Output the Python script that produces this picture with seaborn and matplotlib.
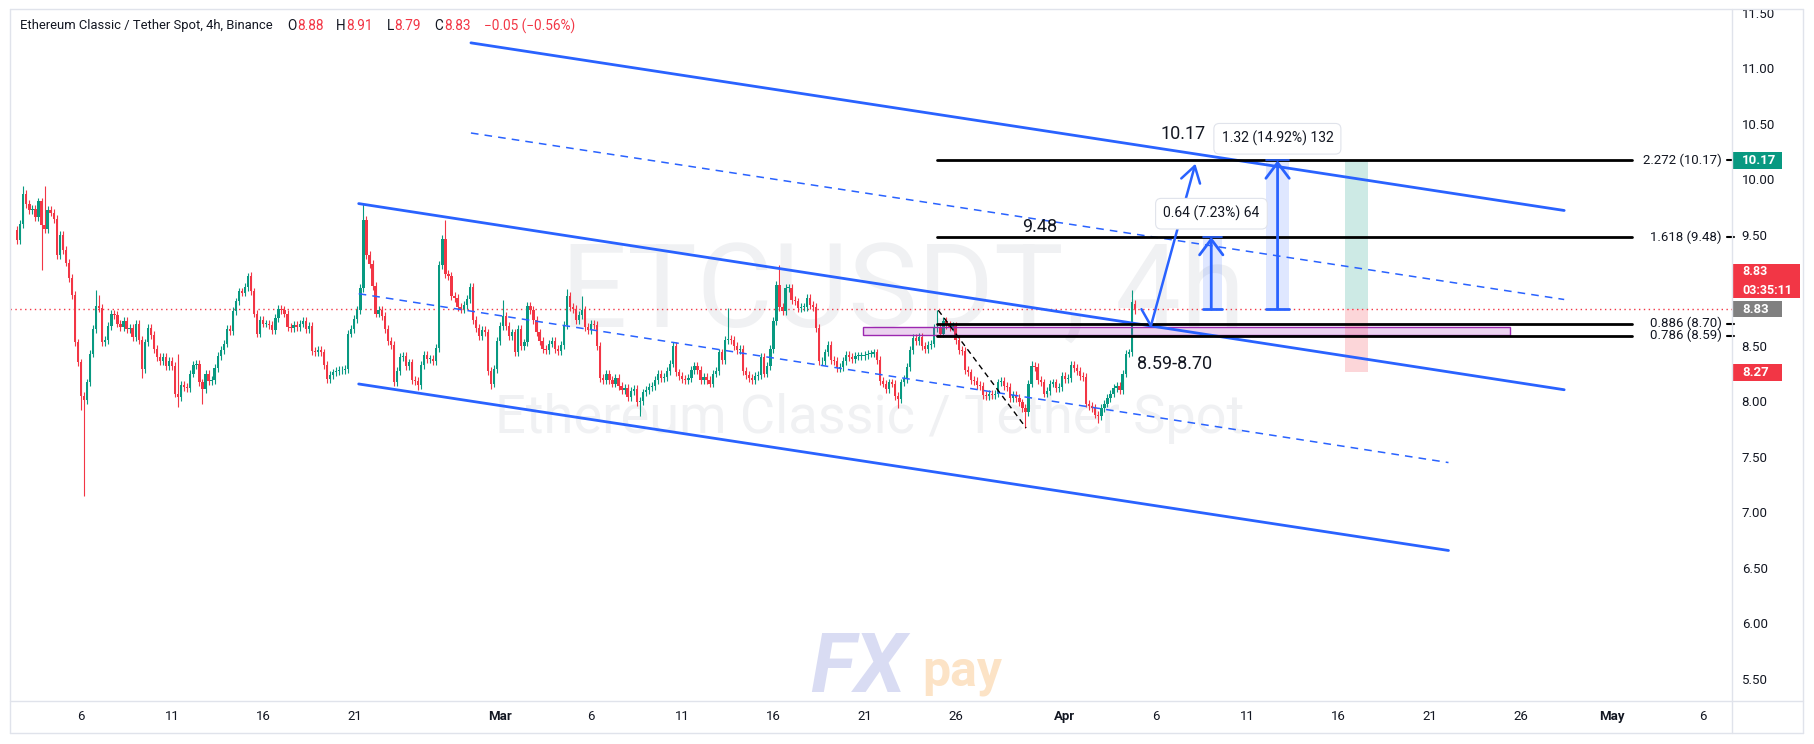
import numpy as np
import pandas as pd
import seaborn as sns
import matplotlib.pyplot as plt
import matplotlib.transforms as mtransforms
from matplotlib.patches import Rectangle
from matplotlib.lines import Line2D

# ---- data (4h candles, x = days since Feb 1) ----
first_day = 1.5
first_open = 9.54
closes_a = [9.45, 9.60, 9.87, 9.78, 9.72, 9.73, 9.66, 9.80, 9.59, 9.55,
            9.72, 9.70, 9.64, 9.32, 9.50, 9.36, 9.25, 9.11, 8.96, 8.53,
            8.35, 8.05, 8.01, 8.17, 8.43, 8.65, 8.86, 8.84, 8.53, 8.55,
            8.68, 8.79, 8.78, 8.70, 8.67, 8.72, 8.65, 8.66, 8.58, 8.70,
            8.55, 8.29, 8.53, 8.66, 8.60, 8.47, 8.40, 8.36, 8.40, 8.32,
            8.36, 8.32, 8.07, 8.04, 8.15, 8.13, 8.12, 8.25, 8.33, 8.34]
closes_b = [8.17, 8.11, 8.25, 8.18, 8.19, 8.30, 8.41, 8.46, 8.52, 8.65,
            8.63, 8.81, 8.90, 8.99, 8.98, 9.03, 9.13, 8.99, 8.79, 8.61,
            8.73, 8.70, 8.70, 8.69, 8.64, 8.75, 8.83, 8.82, 8.79, 8.67,
            8.66, 8.69, 8.67, 8.70, 8.72, 8.65, 8.68, 8.45, 8.44, 8.46,
            8.44, 8.33, 8.20, 8.24, 8.26, 8.27, 8.28, 8.28, 8.29, 8.61,
            8.65, 8.74, 8.82, 9.02, 9.63, 9.32, 9.24, 9.04, 8.79, 8.82,
            8.77, 8.65, 8.54, 8.51]
closes_c = [8.17, 8.27, 8.40, 8.41, 8.32, 8.35, 8.19, 8.18, 8.15, 8.33,
            8.42, 8.38, 8.38, 8.36, 8.48, 9.23, 9.46, 9.15, 9.13, 8.95,
            8.93, 8.85, 8.83, 8.87, 8.92, 9.03, 8.73, 8.66, 8.59, 8.64,
            8.62, 8.27, 8.16, 8.29, 8.54, 8.68, 8.77, 8.68, 8.59, 8.62,
            8.44, 8.65, 8.50, 8.53, 8.86, 8.82, 8.73, 8.62, 8.54, 8.47,
            8.46, 8.52, 8.54, 8.47, 8.45, 8.51, 8.69, 8.95, 8.85, 8.83,
            8.73, 8.78]
closes_d = [8.82, 8.67, 8.64, 8.70, 8.69, 8.50, 8.21, 8.19, 8.25, 8.19,
            8.16, 8.21, 8.14, 8.10, 8.12, 8.04, 8.09, 8.11, 7.99, 8.00,
            8.08, 8.10, 8.13, 8.14, 8.19, 8.25, 8.21, 8.22, 8.27, 8.34,
            8.50, 8.26, 8.23, 8.20, 8.19, 8.21, 8.28, 8.32, 8.28, 8.19,
            8.22, 8.19, 8.16, 8.25, 8.27, 8.44, 8.37, 8.55, 8.56, 8.55,
            8.50, 8.46, 8.47, 8.27, 8.24, 8.21, 8.19, 8.23, 8.24, 8.40,
            8.25, 8.32]
closes_e = [8.47, 8.72, 9.05, 8.85, 8.81, 9.02, 9.02, 8.91, 8.90, 8.84,
            8.85, 8.85, 8.93, 8.87, 8.85, 8.66, 8.36, 8.36, 8.44, 8.51,
            8.37, 8.36, 8.30]
closes_f = [8.31, 8.36, 8.42, 8.40, 8.38, 8.41, 8.41, 8.41, 8.42, 8.43,
            8.43, 8.44, 8.37, 8.18, 8.16, 8.11, 8.17, 8.16, 8.05, 8.02,
            8.17, 8.20, 8.31, 8.46, 8.57, 8.54, 8.58, 8.50, 8.47, 8.51,
            8.52, 8.66, 8.67, 8.61, 8.72, 8.69, 8.67, 8.68, 8.55, 8.46,
            8.45, 8.28, 8.26, 8.19, 8.18, 8.15, 8.14, 8.06, 8.05, 8.07,
            8.06, 8.07, 8.17, 8.18, 8.14, 8.13, 8.03, 8.06, 8.03, 7.99,
            7.94, 7.90, 8.16, 8.32, 8.31, 8.19, 8.17, 8.07, 8.09, 8.16,
            8.17, 8.12, 8.13, 8.23, 8.20, 8.21, 8.33, 8.30, 8.27, 8.23,
            8.22, 7.98, 7.96, 7.94, 7.88, 7.87, 7.94, 7.98, 8.03, 8.07,
            8.12, 8.14, 8.10, 8.25, 8.43, 8.44, 8.89, 8.83]
last_open = 8.88
# long wicks (candle index -> price)
high_marks = {2: 9.94, 9: 9.94, 26: 9.00, 27: 8.96, 53: 8.43, 76: 9.16,
              114: 9.78, 141: 9.63, 160: 8.91, 181: 9.01, 186: 8.95,
              234: 8.84, 251: 9.23, 303: 8.82, 334: 8.36, 367: 9.00, 368: 8.91}
low_marks = {8: 9.18, 21: 7.92, 22: 7.15, 41: 8.21, 53: 7.95, 61: 7.98,
             132: 8.10, 156: 8.11, 205: 7.87, 290: 7.94, 332: 7.76,
             356: 7.80, 368: 8.79}
wick = 0.035

tick_days = [5, 10, 15, 20, 28, 33, 38, 43, 48, 53, 59, 64, 69, 74, 79, 84, 89, 94]
tick_labels = ["6", "11", "16", "21", "Mar", "6", "11", "16", "21", "26",
               "Apr", "6", "11", "16", "21", "26", "May", "6"]
month_labels = ["Mar", "Apr", "May"]
# 9.00 sits under the live-price tag, so it is not shown
price_ticks = [5.5, 6.0, 6.5, 7.0, 7.5, 8.0, 8.5, 9.5, 10.0, 10.5, 11.0, 11.5]

# drawings (day, price)
channel_solid = [[(26.40, 11.229), (86.40, 9.719)],
                 [(20.24, 9.781), (86.40, 8.104)],
                 [(20.24, 8.156), (80.05, 6.656)]]
channel_dashed = [[(26.40, 10.417), (86.40, 8.917)],
                  [(20.24, 8.969), (80.05, 7.448)]]
fib_levels = [2.272, 1.618, 0.886, 0.786]
fib_prices = [10.17, 9.48, 8.70, 8.59]
fib_span = (52.0, 90.1)
zone_days = (47.9, 83.45)
zone_prices = (8.60, 8.67)
abcd_leg = [(52.05, 8.82), (56.87, 7.76)]
path_days = [63.20, 63.72, 66.16]
path_prices = [8.83, 8.68, 10.14]
ranges = [(66.57, 67.63, 67.03, 8.83, 9.48), (70.04, 71.29, 70.67, 8.83, 10.17)]
range_labels = [(67.04, 9.69, "0.64 (7.23%) 64"), (70.66, 10.365, "1.32 (14.92%) 132")]
pos_days = (74.37, 75.62)
entry, target, stop = 8.83, 10.17, 8.26

GREEN = "#089981"
RED = "#F23645"
BLUE = "#2962FF"
INK = "#131722"

sns.set_theme(style="white")
plt.rcParams["font.family"] = ["Roboto", "DejaVu Sans"]

closes = np.array(closes_a + closes_b + closes_c + closes_d + closes_e + closes_f)
n = len(closes)
opens = np.r_[first_open, closes[:-1]]
opens[-1] = last_open
highs = np.maximum(opens, closes) + wick
lows = np.minimum(opens, closes) - wick
for i, v in high_marks.items():
    highs[i] = v
for i, v in low_marks.items():
    lows[i] = v
df = pd.DataFrame({"day": first_day + np.arange(n) / 6.0, "open": opens,
                   "high": highs, "low": lows, "close": closes})
df["color"] = np.where(df["close"] >= df["open"], GREEN, RED)

W, H = 1814, 744
fig = plt.figure(figsize=(W / 100, H / 100), dpi=100)
fig.patch.set_facecolor("white")
ax = fig.add_axes([10.4 / W, 1 - 701 / H, (1732 - 10.4) / W, (701 - 10) / H])
ax.set_facecolor("none")
ax.set_xlim(1.125, 95.61)
ax.set_ylim(5.30, 11.525)

# watermarks
ax.text(50.09, 8.667, "ETCUSDT, 4h", fontsize=84, color="#F0F1F3",
        ha="center", va="baseline", zorder=0.5)
ax.text(48.28, 7.71, "Ethereum Classic / Tether Spot", fontsize=39,
        color="#F0F1F3", ha="center", va="baseline", zorder=0.5)

# candles
ax.vlines(df["day"], df["low"], df["high"], colors=df["color"], lw=0.8, zorder=3)
ax.bar(df["day"], np.maximum((df["close"] - df["open"]).abs(), 0.006),
       bottom=np.minimum(df["open"], df["close"]), width=0.125,
       color=df["color"], linewidth=0, zorder=3.1)

# current price line
ax.axhline(8.83, color=RED, lw=1, ls=(0, (1, 2.5)), zorder=2)

# channels
for (x0, y0), (x1, y1) in channel_solid:
    sns.lineplot(x=[x0, x1], y=[y0, y1], ax=ax, color=BLUE, lw=2, zorder=4)
for (x0, y0), (x1, y1) in channel_dashed:
    sns.lineplot(x=[x0, x1], y=[y0, y1], ax=ax, color=BLUE, lw=1.1,
                 linestyle=(0, (5, 4)), zorder=4)

# support zone
ax.add_patch(Rectangle((zone_days[0], zone_prices[0]), zone_days[1] - zone_days[0],
                       zone_prices[1] - zone_prices[0], facecolor="#9C27B0",
                       alpha=0.2, lw=0, zorder=3.5))
ax.add_patch(Rectangle((zone_days[0], zone_prices[0]), zone_days[1] - zone_days[0],
                       zone_prices[1] - zone_prices[0], facecolor="none",
                       edgecolor="#9C27B0", lw=1.0, zorder=3.6))

# fib extension levels
for lvl, p in zip(fib_levels, fib_prices):
    ax.plot(fib_span, [p, p], color="black", lw=2, zorder=4.5)
    ax.text(95.04, p, f"{lvl} ({p:.2f})", fontsize=9.5, color=INK,
            ha="right", va="center", zorder=5)
    ax.plot([95.35, 95.7], [p, p], color="black", lw=1.5, clip_on=False, zorder=5)

# abcd leg
ax.plot(*zip(*abcd_leg), color="black", lw=1, ls=(0, (4, 3)), zorder=4)

# projection path
ax.plot(path_days[:2], path_prices[:2], color=BLUE, lw=1.8, zorder=6)
ax.annotate("", xy=(path_days[2], path_prices[2]), xytext=(path_days[1], path_prices[1]),
            arrowprops=dict(arrowstyle="->,head_length=0.8,head_width=0.5",
                            color=BLUE, lw=1.8, shrinkA=0, shrinkB=0,
                            mutation_scale=14), zorder=6)

# price ranges
for x0, x1, xm, p0, p1 in ranges:
    ax.add_patch(Rectangle((x0, p0), x1 - x0, p1 - p0, facecolor=BLUE,
                           alpha=0.15, lw=0, zorder=3.8))
    ax.plot([x0, x1], [p0, p0], color=BLUE, lw=2, zorder=6)
    ax.plot([x0, x1], [p1, p1], color=BLUE, lw=1.2, zorder=6)
    ax.annotate("", xy=(xm, p1), xytext=(xm, p0),
                arrowprops=dict(arrowstyle="->,head_length=0.8,head_width=0.6",
                                color=BLUE, lw=2, shrinkA=0, shrinkB=0,
                                mutation_scale=14), zorder=6)
for xm, p, s in range_labels:
    ax.text(xm, p, s, fontsize=10, color=INK, ha="center", va="center", zorder=7,
            bbox=dict(boxstyle="round,pad=0.55,rounding_size=0.4", fc="white",
                      ec="#E0E3EB", lw=0.8))

# long position box
ax.add_patch(Rectangle((pos_days[0], entry), pos_days[1] - pos_days[0], target - entry,
                       facecolor=GREEN, alpha=0.2, lw=0, zorder=3.8))
ax.add_patch(Rectangle((pos_days[0], stop), pos_days[1] - pos_days[0], entry - stop,
                       facecolor=RED, alpha=0.2, lw=0, zorder=3.8))

# big annotations
ax.text(65.47, 10.406, "10.17", fontsize=13, color=INK, ha="center", va="center", zorder=7)
ax.text(57.63, 9.573, "9.48", fontsize=13, color=INK, ha="center", va="center", zorder=7)
ax.text(62.97, 8.333, "8.59-8.70", fontsize=13, color=INK, ha="left", va="center", zorder=7)

# axes styling
for s in ax.spines.values():
    s.set_visible(False)
ax.yaxis.tick_right()
ax.set_yticks(price_ticks)
ax.set_yticklabels([f"{v:.2f}" for v in price_ticks])
ax.tick_params(axis="y", length=0, pad=7, labelsize=9.5, labelcolor=INK)
ax.set_xticks(tick_days)
ax.set_xticklabels(tick_labels)
ax.tick_params(axis="x", length=0, pad=6.5, labelsize=9.5, labelcolor=INK)
for t in ax.get_xticklabels():
    if t.get_text() in month_labels:
        t.set_fontweight("bold")
ax.set_xlabel("")
ax.set_ylabel("")

# price-axis labels
trans = mtransforms.blended_transform_factory(fig.transFigure, ax.transData)
def axis_tag(p0, p1, color, lines, right=1782, size=9.5):
    ax.add_patch(Rectangle((1733 / W, p0), (right - 1733) / W, p1 - p0, facecolor=color,
                           lw=0, transform=trans, clip_on=False, zorder=8))
    for py, s in lines:
        ax.text(1742 / W, py, s, transform=trans, fontsize=size, color="white",
                fontweight="bold", va="center", ha="left", clip_on=False, zorder=9)
axis_tag(10.09, 10.25, GREEN, [(10.17, "10.17")])
axis_tag(8.93, 9.24, RED, [(9.17, "8.83"), (8.995, "03:35:11")], right=1800, size=9)
axis_tag(8.755, 8.905, "#808080", [(8.83, "8.83")])
axis_tag(8.18, 8.335, RED, [(8.258, "8.27")])

# header
hy = 1 - 26 / H
fig.text(20.5 / W, hy, "Ethereum Classic / Tether Spot, 4h, Binance", fontsize=9.35,
         color=INK, va="center")
for x, s, c in [(287, "O", INK), (297, "8.88", RED), (336, "H", INK), (346.5, "8.91", RED),
                (386.5, "L", INK), (394.5, "8.79", RED), (434, "C", INK), (444, "8.83", RED),
                (483.6, "\u22120.05 (\u22120.56%)", RED)]:
    fig.text(x / W, hy, s, fontsize=9.8, color=c, va="center")

# logo watermark
fig.text(810 / W, 1 - 692 / H, "FX", fontsize=60, fontweight="bold", fontstyle="italic",
         color="#D9DCF3", va="baseline")
fig.text(922 / W, 1 - 686 / H, "pay", fontsize=36, fontweight="bold",
         color="#FCE3C6", va="baseline")

# frame
frame = "#E0E3EB"
for (x0, y0), (x1, y1) in [((10, 9), (1803, 9)), ((10, 733), (1803, 733)),
                           ((10, 9), (10, 733)), ((1803, 9), (1803, 733)),
                           ((1732, 9), (1732, 733)), ((10, 701), (1803, 701))]:
    fig.add_artist(Line2D([x0 / W, x1 / W], [1 - y0 / H, 1 - y1 / H],
                          transform=fig.transFigure, color=frame, lw=1))

fig.savefig("out.png", dpi=100, facecolor="white")
